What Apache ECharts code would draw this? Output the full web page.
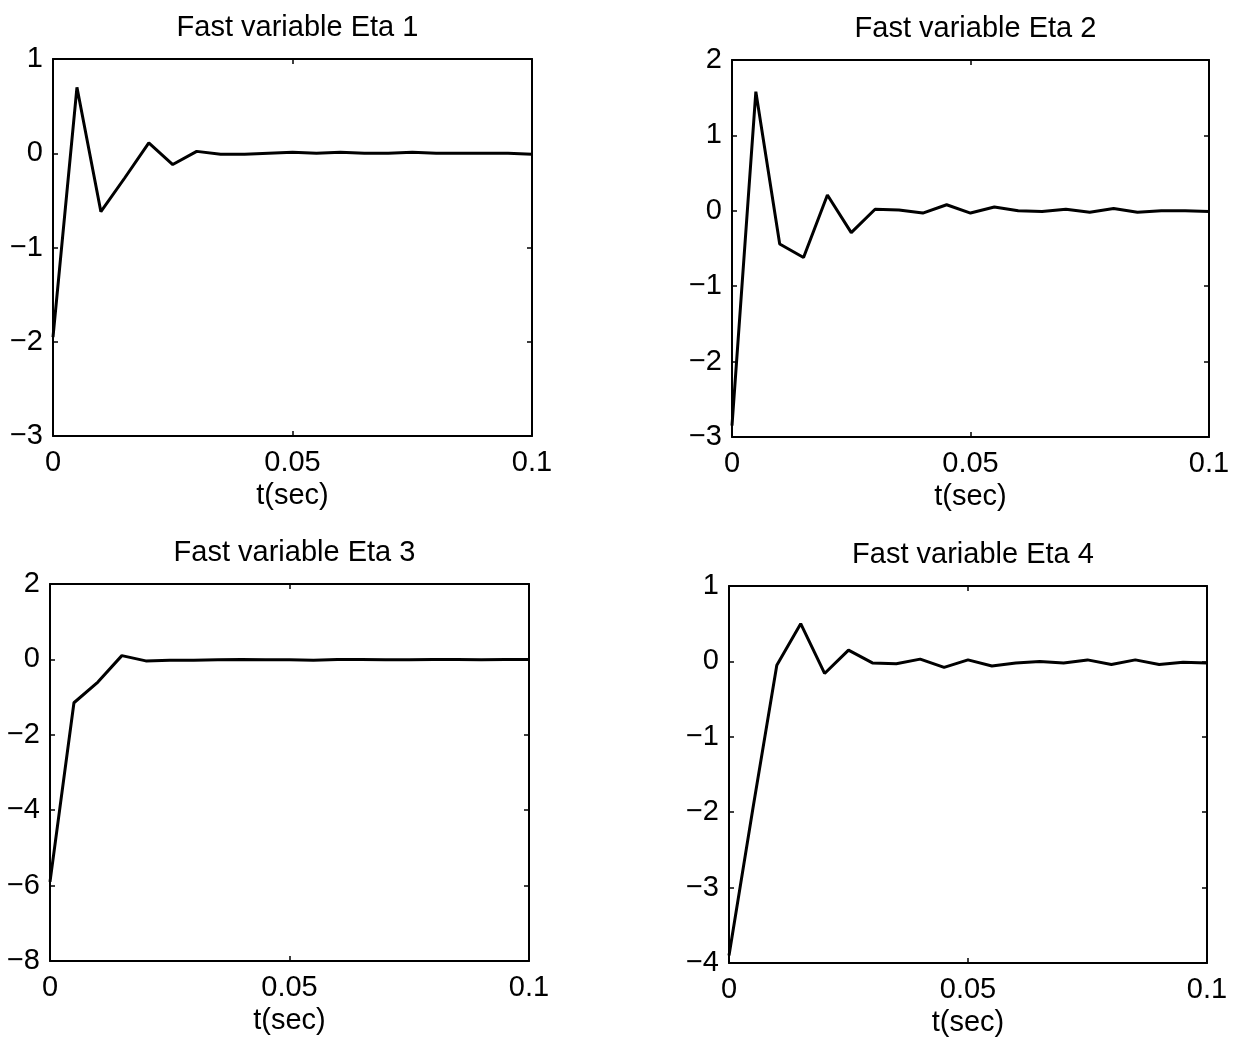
<!DOCTYPE html>
<html>
<head>
<meta charset="utf-8">
<script src="https://cdn.jsdelivr.net/npm/echarts@6/dist/echarts.min.js"></script>
<style>
html,body{margin:0;padding:0;background:#fff;}
#chart{width:1240px;height:1043px;}
</style>
</head>
<body>
<div id="chart"></div>
<script>
// time samples (sec)
const tValues = [0, 0.005, 0.01, 0.015, 0.02, 0.025, 0.03, 0.035, 0.04, 0.045, 0.05,
                 0.055, 0.06, 0.065, 0.07, 0.075, 0.08, 0.085, 0.09, 0.095, 0.1];

const titles = ["Fast variable Eta 1", "Fast variable Eta 2", "Fast variable Eta 3", "Fast variable Eta 4"];
const xAxisName = "t(sec)";

const eta1 = [-1.95, 0.7, -0.62, -0.26, 0.11, -0.12, 0.02, -0.01, -0.01, 0.0, 0.01,
              0.0, 0.01, 0.0, 0.0, 0.01, 0.0, 0.0, 0.0, 0.0, -0.01];
const eta2 = [-2.85, 1.58, -0.44, -0.62, 0.21, -0.29, 0.02, 0.01, -0.03, 0.08, -0.03,
              0.05, 0.0, -0.01, 0.02, -0.02, 0.03, -0.02, 0.0, 0.0, -0.01];
const eta3 = [-5.9, -1.15, -0.6, 0.1, -0.04, -0.02, -0.02, -0.01, 0.0, -0.01, -0.01,
              -0.02, 0.0, 0.0, -0.01, -0.01, 0.0, 0.0, -0.01, 0.0, 0.0];
const eta4 = [-3.9, -1.95, -0.05, 0.5, -0.16, 0.15, -0.02, -0.03, 0.03, -0.08, 0.02,
              -0.06, -0.02, 0.0, -0.02, 0.02, -0.04, 0.02, -0.04, -0.01, -0.02];

const yRanges = [[-3, 1, 1], [-3, 2, 1], [-8, 2, 2], [-4, 1, 1]];
const seriesData = [eta1, eta2, eta3, eta4];

const grids = [
  {left: 53, top: 59, width: 479, height: 377},
  {left: 732, top: 60, width: 477, height: 377},
  {left: 50, top: 584, width: 479, height: 377},
  {left: 729, top: 586, width: 478, height: 377}
];

const FONT = "Liberation Sans, Arial, Helvetica, sans-serif";
const lbl = {color: '#000', fontFamily: FONT, fontSize: 29};

const option = {
  backgroundColor: '#fff',
  animation: false,
  title: grids.map((g, i) => ({
    text: titles[i],
    left: g.left + g.width / 2,
    top: g.top - 51,
    textAlign: 'center',
    textStyle: {color: '#000', fontFamily: FONT, fontSize: 29, fontWeight: 'normal'}
  })),
  grid: grids,
  xAxis: [],
  yAxis: [],
  series: []
};

grids.forEach((g, i) => {
  const axLine = {show: true, onZero: false, lineStyle: {color: '#000', width: 2}};
  const tick = {show: true, inside: true, length: 5, lineStyle: {color: '#000', width: 1.5}};
  option.xAxis.push({
    type: 'value', gridIndex: i, position: 'bottom', min: 0, max: 0.1, interval: 0.05,
    axisLine: axLine, axisTick: tick, splitLine: {show: false},
    axisLabel: Object.assign({margin: 12, formatter: v => String(v)}, lbl),
    name: xAxisName, nameLocation: 'middle', nameGap: 45,
    nameTextStyle: {color: '#000', fontFamily: FONT, fontSize: 29}
  });
  option.xAxis.push({
    type: 'value', gridIndex: i, position: 'top', min: 0, max: 0.1, interval: 0.05,
    axisLine: axLine, axisTick: tick, splitLine: {show: false}, axisLabel: {show: false}
  });
  const r = yRanges[i];
  option.yAxis.push({
    type: 'value', gridIndex: i, position: 'left', min: r[0], max: r[1], interval: r[2],
    axisLine: axLine, axisTick: tick, splitLine: {show: false},
    axisLabel: Object.assign({margin: 10, formatter: v => String(v).replace('-', '\u2212')}, lbl)
  });
  option.yAxis.push({
    type: 'value', gridIndex: i, position: 'right', min: r[0], max: r[1], interval: r[2],
    axisLine: axLine, axisTick: tick, splitLine: {show: false}, axisLabel: {show: false}
  });
  option.series.push({
    type: 'line', xAxisIndex: 2 * i, yAxisIndex: 2 * i,
    data: tValues.map((t, k) => [t, seriesData[i][k]]),
    showSymbol: false, symbol: 'none',
    lineStyle: {color: '#000', width: 3},
    clip: false
  });
});

const chart = echarts.init(document.getElementById('chart'), null, {renderer: 'canvas'});
chart.setOption(option);
</script>
</body>
</html>
